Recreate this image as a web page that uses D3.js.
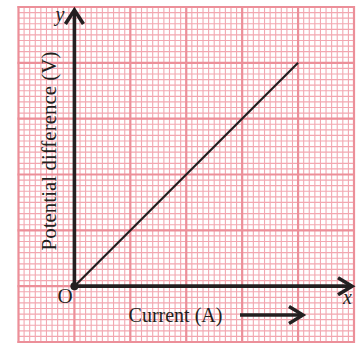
<!DOCTYPE html>
<html>
<head>
<meta charset="utf-8">
<script src="https://cdn.jsdelivr.net/npm/d3@7"></script>
<style>
  body { margin: 0; background: #fff; }
  text { font-family: "Liberation Serif", "Times New Roman", serif; fill: #231f20; }
</style>
</head>
<body>
<svg id="chart" width="357" height="345"></svg>
<script>
// ----------

// graph paper: major squares from -1 to 5 on both axes, 10 small squares each
const MAJOR_TICKS = [-1, 0, 1, 2, 3, 4, 5];
const MINOR_PER_MAJOR = 10;

// the straight line V = k * I (in major squares)
const CURRENT = [0, 4];
const VOLTAGE = [0, 4];

const X_LABEL = "Current (A)";
const Y_LABEL = "Potential difference (V)";
const X_NAME = "x";
const Y_NAME = "y";
const ORIGIN_NAME = "O";

const INK = "#231f20";
const MINOR_COLOR = "#f2a7b0";
const MAJOR_COLOR = "#ec8f99";

// ----------

const svg = d3.select("#chart");

const x = d3.scaleLinear().domain([-1, 5]).range([18.5, 354]);
const y = d3.scaleLinear().domain([-1, 5]).range([342, 7]);

const minorTicks = d3.range(-1 * MINOR_PER_MAJOR, 5 * MINOR_PER_MAJOR + 1).map((d) => d / MINOR_PER_MAJOR);

// minor grid
const grid = svg.append("g");
grid.selectAll("line.vmin")
  .data(minorTicks)
  .enter()
  .append("line")
  .attr("x1", (d) => x(d))
  .attr("x2", (d) => x(d))
  .attr("y1", y(-1))
  .attr("y2", y(5))
  .attr("stroke", MINOR_COLOR)
  .attr("stroke-width", 1.1);
grid.selectAll("line.hmin")
  .data(minorTicks)
  .enter()
  .append("line")
  .attr("y1", (d) => y(d))
  .attr("y2", (d) => y(d))
  .attr("x1", x(-1))
  .attr("x2", x(5))
  .attr("stroke", MINOR_COLOR)
  .attr("stroke-width", 1.1);

// major grid
grid.selectAll("line.vmaj")
  .data(MAJOR_TICKS)
  .enter()
  .append("line")
  .attr("x1", (d) => x(d))
  .attr("x2", (d) => x(d))
  .attr("y1", y(-1) + 1)
  .attr("y2", y(5) - 1)
  .attr("stroke", MAJOR_COLOR)
  .attr("stroke-width", 2.2);
grid.selectAll("line.hmaj")
  .data(MAJOR_TICKS)
  .enter()
  .append("line")
  .attr("y1", (d) => y(d))
  .attr("y2", (d) => y(d))
  .attr("x1", x(-1) - 1)
  .attr("x2", x(5) + 1)
  .attr("stroke", MAJOR_COLOR)
  .attr("stroke-width", 2.2);

// axes with open arrowheads
function arrow(g, x1, y1, x2, y2, w, len, half) {
  const a = Math.atan2(y2 - y1, x2 - x1);
  const bx = x2 - len * Math.cos(a), by = y2 - len * Math.sin(a);
  const px = -Math.sin(a) * half, py = Math.cos(a) * half;
  g.append("line")
    .attr("x1", x1).attr("y1", y1)
    .attr("x2", x2 - 2 * Math.cos(a)).attr("y2", y2 - 2 * Math.sin(a))
    .attr("stroke", INK).attr("stroke-width", w);
  g.append("path")
    .attr("d", `M${bx + px},${by + py}L${x2},${y2}L${bx - px},${by - py}`)
    .attr("fill", "none")
    .attr("stroke", INK)
    .attr("stroke-width", w)
    .attr("stroke-linejoin", "miter");
}

const axes = svg.append("g");
arrow(axes, x(0), y(0), x(0), 10, 3.6, 14, 9);
arrow(axes, x(0), y(0), 352, y(0), 3.6, 14, 8.5);

// the line
const line = d3.line()
  .x((d) => x(d[0]))
  .y((d) => y(d[1]));
svg.append("path")
  .datum(d3.zip(CURRENT, VOLTAGE))
  .attr("d", line)
  .attr("fill", "none")
  .attr("stroke", INK)
  .attr("stroke-width", 2.2);

svg.append("circle")
  .attr("cx", x(0))
  .attr("cy", y(0))
  .attr("r", 4)
  .attr("fill", INK);

// labels
svg.append("text")
  .attr("x", 65)
  .attr("y", 303)
  .attr("text-anchor", "middle")
  .style("font-size", "21px")
  .text(ORIGIN_NAME);

svg.append("text")
  .attr("x", 60)
  .attr("y", 21)
  .attr("text-anchor", "middle")
  .style("font-size", "20px")
  .style("font-style", "italic")
  .text(Y_NAME);

svg.append("text")
  .attr("x", 347.5)
  .attr("y", 304)
  .attr("text-anchor", "middle")
  .style("font-size", "20px")
  .style("font-style", "italic")
  .text(X_NAME);

svg.append("text")
  .attr("x", 175.5)
  .attr("y", 322)
  .attr("text-anchor", "middle")
  .style("font-size", "20px")
  .text(X_LABEL);

arrow(svg.append("g"), 240, 315, 303, 315, 3.4, 14, 8.5);

svg.append("text")
  .attr("transform", "translate(56,151) rotate(-90)")
  .attr("text-anchor", "middle")
  .style("font-size", "21px")
  .text(Y_LABEL);
</script>
</body>
</html>
